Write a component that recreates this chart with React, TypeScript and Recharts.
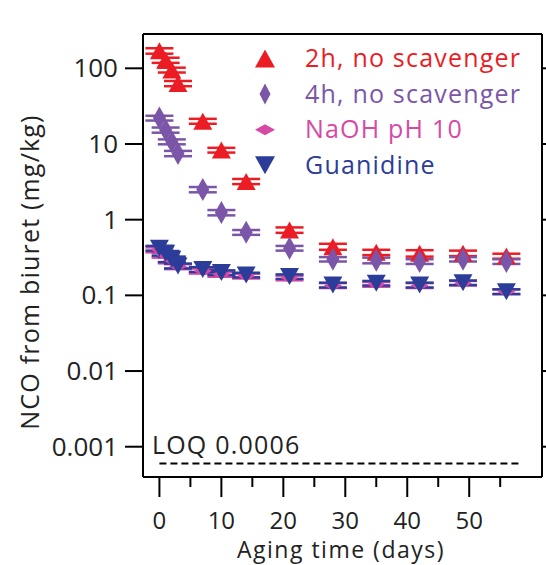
import React from 'react';
import {
  ErrorBar,
  Legend,
  ReferenceLine,
  Scatter,
  ScatterChart,
  XAxis,
  YAxis,
} from 'recharts';

document.body.style.margin = '0';

const FONT = '"Open Sans", sans-serif';

const RED = '#ec1c24';
const PURPLE = '#7b55a8';
const PINK = '#d64aa5';
const BLUE = '#2c3d99';

// aging time (days)
const DAYS = [0, 1, 2, 3, 7, 10, 14, 21, 28, 35, 42, 49, 56];

// NCO from biuret (mg/kg)
const NO_SCAV_2H = [170, 128, 95, 63, 20, 8.3, 3.2, 0.73, 0.44, 0.37, 0.36, 0.36, 0.33];
const NO_SCAV_2H_ERR = [14, 10, 7, 5, 1.5, 0.6, 0.25, 0.06, 0.04, 0.03, 0.035, 0.03, 0.025];

const NO_SCAV_4H = [22, 15.3, 10.7, 7.5, 2.5, 1.24, 0.68, 0.42, 0.3, 0.29, 0.28, 0.3, 0.28];
const NO_SCAV_4H_ERR = [1.6, 1.2, 0.8, 0.6, 0.2, 0.1, 0.05, 0.03, 0.02, 0.025, 0.02, 0.02, 0.02];

const NAOH = [0.4, 0.34, 0.29, 0.24, 0.21, 0.19, 0.18, 0.17, 0.135, 0.14, 0.135, 0.145, 0.112];
const NAOH_ERR = [0.03, 0.025, 0.025, 0.018, 0.016, 0.014, 0.013, 0.012, 0.01, 0.01, 0.01, 0.01, 0.008];

const GUANIDINE = [0.42, 0.36, 0.3, 0.245, 0.22, 0.2, 0.186, 0.177, 0.137, 0.145, 0.137, 0.147, 0.112];
const GUANIDINE_ERR = [0.03, 0.025, 0.025, 0.018, 0.016, 0.014, 0.013, 0.012, 0.01, 0.01, 0.01, 0.01, 0.008];

const X_TICKS = [0, 5, 10, 15, 20, 25, 30, 35, 40, 45, 50, 55];
const Y_TICKS = [0.001, 0.01, 0.1, 1, 10, 100];

const LOQ = 0.0006;

const X_DOMAIN = [-2.65, 61.75];
const Y_DOMAIN = [0.000398, 284];

const toPoints = (values: number[], errs: number[]) =>
  DAYS.map((d, i) => ({ x: d, y: values[i], err: errs[i] }));

const upTriangle = (cx: number, cy: number, w: number, h: number, fill: string) => (
  <polygon
    points={`${cx},${cy - h / 2} ${cx + w / 2},${cy + h / 2} ${cx - w / 2},${cy + h / 2}`}
    fill={fill}
  />
);
const downTriangle = (cx: number, cy: number, w: number, h: number, fill: string) => (
  <polygon
    points={`${cx - w / 2},${cy - h / 2} ${cx + w / 2},${cy - h / 2} ${cx},${cy + h / 2}`}
    fill={fill}
  />
);
const diamond = (cx: number, cy: number, w: number, h: number, fill: string) => (
  <polygon
    points={`${cx},${cy - h / 2} ${cx + w / 2},${cy} ${cx},${cy + h / 2} ${cx - w / 2},${cy}`}
    fill={fill}
  />
);

const BottomTick = (props: any) => {
  const { x, y, payload } = props;
  const major = payload.value % 10 === 0;
  return (
    <g>
      <line x1={x} x2={x} y1={y} y2={y + (major ? 20 : 10)} stroke="#000" strokeWidth={2} />
      {major && (
        <text x={x} y={y + 52} textAnchor="middle" fontFamily={FONT} fontSize={24} fill="#222">
          {payload.value}
        </text>
      )}
    </g>
  );
};

const TopTick = (props: any) => {
  const { x, y, payload } = props;
  const major = payload.value % 10 === 0;
  return <line x1={x} x2={x} y1={y} y2={y - (major ? 16 : 8)} stroke="#000" strokeWidth={2} />;
};

const LeftTick = (props: any) => {
  const { x, y, payload } = props;
  return (
    <g>
      <line x1={x - 18} x2={x} y1={y} y2={y} stroke="#000" strokeWidth={2} />
      <text x={x - 25} y={y + 9} textAnchor="end" fontFamily={FONT} fontSize={26} fill="#222">
        {String(payload.value)}
      </text>
    </g>
  );
};

const RightTick = (props: any) => {
  const { x, y } = props;
  return <line x1={x} x2={x + 8} y1={y} y2={y} stroke="#000" strokeWidth={2} />;
};

const LEGEND_ROWS = [
  { label: '2h, no scavenger', color: RED, mark: (cx: number, cy: number) => upTriangle(cx, cy, 20, 18, RED) },
  { label: '4h, no scavenger', color: PURPLE, mark: (cx: number, cy: number) => diamond(cx, cy, 11, 21, PURPLE) },
  { label: 'NaOH pH 10', color: PINK, mark: (cx: number, cy: number) => diamond(cx, cy, 20, 11, PINK) },
  { label: 'Guanidine', color: BLUE, mark: (cx: number, cy: number) => downTriangle(cx, cy, 20, 18, BLUE) },
];

const LegendBox = () => (
  <svg width={296} height={150}>
    {LEGEND_ROWS.map((row, i) => {
      const cy = 20.5 + i * 35.6;
      return (
        <g key={row.label}>
          {row.mark(15, cy)}
          <text
            x={55}
            y={cy + 8.5}
            fontFamily={FONT}
            fontSize={25}
            letterSpacing={1.2}
            fill={row.color}
          >
            {row.label}
          </text>
        </g>
      );
    })}
  </svg>
);

export default function App() {
  return (
    <ScatterChart width={546} height={565} margin={{ top: 0, right: 0, bottom: 0, left: 0 }}>
      <XAxis
        xAxisId="bottom"
        dataKey="x"
        type="number"
        domain={X_DOMAIN}
        allowDataOverflow
        ticks={X_TICKS}
        interval={0}
        height={88}
        tickSize={0}
        tickMargin={0}
        tickLine={false}
        axisLine={{ stroke: '#000', strokeWidth: 2 }}
        tick={<BottomTick />}
        label={() => (
          <text x={341} y={558} textAnchor="middle" fontFamily={FONT} fontSize={23} letterSpacing={1.5} fill="#222">
            Aging time (days)
          </text>
        )}
      />
      <XAxis
        xAxisId="top"
        orientation="top"
        type="number"
        domain={X_DOMAIN}
        allowDataOverflow
        ticks={X_TICKS}
        interval={0}
        height={34}
        tickSize={0}
        tickMargin={0}
        tickLine={false}
        axisLine={{ stroke: '#000', strokeWidth: 2 }}
        tick={<TopTick />}
      />
      <YAxis
        yAxisId="left"
        dataKey="y"
        type="number"
        scale="log"
        domain={Y_DOMAIN}
        allowDataOverflow
        ticks={Y_TICKS}
        interval={0}
        width={143}
        tickSize={0}
        tickMargin={0}
        tickLine={false}
        axisLine={{ stroke: '#000', strokeWidth: 2 }}
        tick={<LeftTick />}
        label={() => (
          <text
            x={39}
            y={272}
            transform="rotate(-90 39 272)"
            textAnchor="middle"
            fontFamily={FONT}
            fontSize={25}
            letterSpacing={1.2}
            fill="#222"
          >
            NCO from biuret (mg/kg)
          </text>
        )}
      />
      <YAxis
        yAxisId="right"
        orientation="right"
        type="number"
        scale="log"
        domain={Y_DOMAIN}
        allowDataOverflow
        ticks={Y_TICKS}
        interval={0}
        width={4}
        tickSize={0}
        tickMargin={0}
        tickLine={false}
        axisLine={{ stroke: '#000', strokeWidth: 2 }}
        tick={<RightTick />}
      />

      <ReferenceLine
        xAxisId="bottom"
        yAxisId="left"
        segment={[
          { x: 0, y: LOQ },
          { x: 58.5, y: LOQ },
        ]}
        stroke="#000"
        strokeWidth={2}
        strokeDasharray="7 4"
        label={(p: any) => {
          const vb = p.viewBox || {};
          return (
            <text
              x={(vb.x ?? 159) - 7.5}
              y={(vb.y ?? 463) - 10}
              fontFamily={FONT}
              fontSize={25}
              letterSpacing={1.2}
              fill="#222"
            >
              LOQ 0.0006
            </text>
          );
        }}
      />

      <Scatter
        xAxisId="bottom"
        yAxisId="left"
        data={toPoints(NO_SCAV_2H, NO_SCAV_2H_ERR)}
        isAnimationActive={false}
        shape={(p: any) => upTriangle(p.cx, p.cy, 19, 17, RED)}
      >
        <ErrorBar dataKey="err" direction="y" width={14} stroke={RED} strokeWidth={2.5} isAnimationActive={false} />
      </Scatter>
      <Scatter
        xAxisId="bottom"
        yAxisId="left"
        data={toPoints(NO_SCAV_4H, NO_SCAV_4H_ERR)}
        isAnimationActive={false}
        shape={(p: any) => diamond(p.cx, p.cy, 13, 23, PURPLE)}
      >
        <ErrorBar dataKey="err" direction="y" width={14} stroke={PURPLE} strokeWidth={2.5} isAnimationActive={false} />
      </Scatter>
      <Scatter
        xAxisId="bottom"
        yAxisId="left"
        data={toPoints(NAOH, NAOH_ERR)}
        isAnimationActive={false}
        shape={(p: any) => diamond(p.cx, p.cy, 18, 10, PINK)}
      >
        <ErrorBar dataKey="err" direction="y" width={14} stroke={PINK} strokeWidth={2.5} isAnimationActive={false} />
      </Scatter>
      <Scatter
        xAxisId="bottom"
        yAxisId="left"
        data={toPoints(GUANIDINE, GUANIDINE_ERR)}
        isAnimationActive={false}
        shape={(p: any) => downTriangle(p.cx, p.cy, 19, 17, BLUE)}
      >
        <ErrorBar dataKey="err" direction="y" width={14} stroke={BLUE} strokeWidth={2.5} isAnimationActive={false} />
      </Scatter>

      <Legend
        layout="horizontal"
        verticalAlign="middle"
        align="center"
        content={() => <LegendBox />}
        wrapperStyle={{ position: 'absolute', left: 250, top: 38, width: 296, height: 150 }}
      />
    </ScatterChart>
  );
}
